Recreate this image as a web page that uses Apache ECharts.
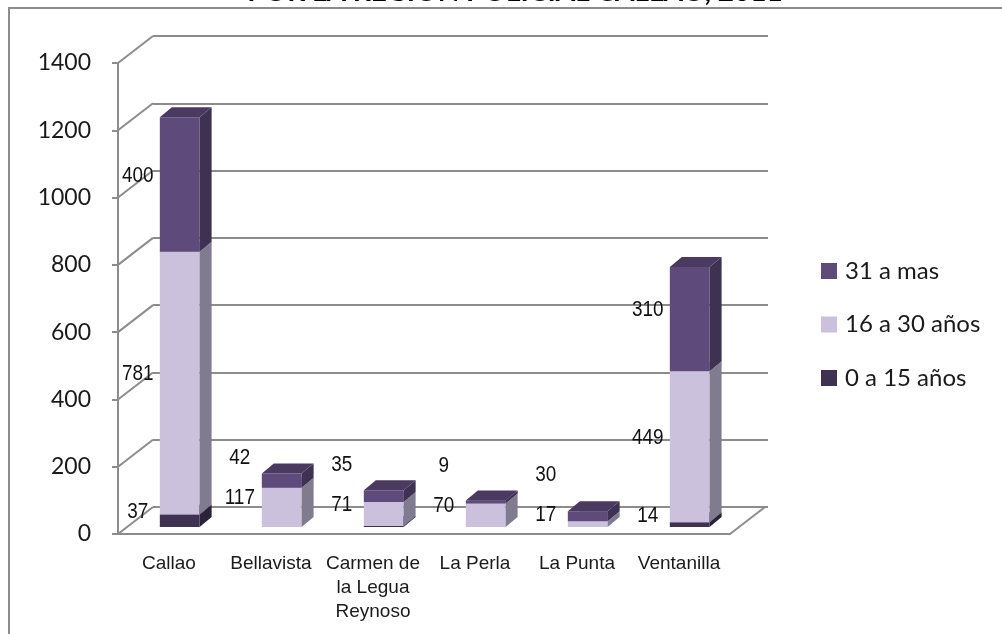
<!DOCTYPE html>
<html lang="es" style="height: 100%">
<head>
    <meta charset="utf-8">
    <title>Región Policial Callao</title>
    <script src="https://cdn.jsdelivr.net/npm/echarts@6/dist/echarts.min.js"></script>
</head>
<body style="height: 100%; margin: 0; background: #fff;">
<div id="container" style="width: 1002px; height: 634px"></div>
<script type="text/javascript">
    // datos
    var categories = ['Callao', 'Bellavista', 'Carmen de\nla Legua\nReynoso', 'La Perla', 'La Punta', 'Ventanilla'];
    var age0to15 = [37, 0, 3, 0, 0, 14];
    var age16to30 = [781, 117, 71, 70, 17, 449];
    var age31plus = [400, 42, 35, 9, 30, 310];
    var yTicks = [0, 200, 400, 600, 800, 1000, 1200, 1400];
    var seriesNames = ['0 a 15 años', '16 a 30 años', '31 a mas'];

    // profundidad de la pared y de las barras
    var WALL_DX = 35, WALL_DY = -27;
    var BAR_DX = 12, BAR_DY = -10;
    var GRID_COLOR = '#8c8c8c';
    var ARIAL = "'Liberation Sans', Arial, sans-serif";

    var dom = document.getElementById('container');
    var myChart = echarts.init(dom, null, {renderer: 'canvas'});

    // tramos apilados [categoria, inicio, fin]
    function stackData(values, bases) {
        return values.map(function (v, i) {
            return [i, bases[i], bases[i] + v];
        });
    }
    var zeros = age0to15.map(function () { return 0; });
    var base1 = age0to15.slice();
    var base2 = age0to15.map(function (v, i) { return v + age16to30[i]; });

    // cara frontal de la barra a partir de la escala
    function barFace(api, cat, lo, hi) {
        var band = api.size([1, 0])[0];
        var p0 = api.coord([cat, lo]);
        var p1 = api.coord([cat, hi]);
        var x0 = p0[0] - band * 0.09;
        return {x0: x0, x1: x0 + band * 0.39, y0: p0[1] - 7, y1: p1[1] - 7};
    }

    function boxRenderer(front, side, top) {
        return function (params, api) {
            var lo = api.value(1), hi = api.value(2);
            if (hi - lo <= 0) return;
            var f = barFace(api, api.value(0), lo, hi);
            var x0 = f.x0, x1 = f.x1, y0 = f.y0, y1 = f.y1;
            return {type: 'group', children: [
                {type: 'rect', shape: {x: x0, y: y1, width: x1 - x0, height: y0 - y1}, style: {fill: front}},
                {type: 'polygon', shape: {points: [[x1, y1], [x1 + BAR_DX, y1 + BAR_DY], [x1 + BAR_DX, y0 + BAR_DY], [x1, y0]]}, style: {fill: side}},
                {type: 'polygon', shape: {points: [[x0, y1], [x0 + BAR_DX, y1 + BAR_DY], [x1 + BAR_DX, y1 + BAR_DY], [x1, y1]]}, style: {fill: top}}
            ]};
        };
    }

    // etiquetas a la izquierda de cada tramo, separadas si no caben
    function labelRenderer(params, api) {
        var cat = api.value(0);
        var vals = [api.value(1), api.value(2), api.value(3)];
        var base = 0, prevY = Infinity, children = [];
        vals.forEach(function (v) {
            if (v >= 5) {
                var f = barFace(api, cat, base, base + v);
                var y = Math.min((f.y0 + f.y1) / 2 - 9, prevY - 40);
                prevY = y;
                children.push({
                    type: 'text',
                    x: f.x0 - 22, y: y,
                    scaleX: 0.86,
                    style: {
                        x: 0, y: 0,
                        text: String(v),
                        fill: '#111',
                        fontFamily: ARIAL,
                        fontSize: 22,
                        align: 'center', verticalAlign: 'middle'
                    }
                });
            }
            base += v;
        });
        return {type: 'group', children: children};
    }

    var option = {
        animation: false,
        title: {
            text: 'POR LA REGIÓN POLICIAL CALLAO, 2011',
            left: 510,
            textAlign: 'center',
            top: -27,
            textStyle: {fontFamily: 'Lato', fontSize: 28, fontWeight: 'bold', color: '#000'}
        },
        graphic: [{
            type: 'rect',
            shape: {x: 9, y: 8, width: 1100, height: 700},
            style: {fill: null, stroke: GRID_COLOR, lineWidth: 2},
            z: -10
        }],
        legend: {
            orient: 'vertical',
            left: 821,
            top: 259,
            padding: 0,
            itemWidth: 16,
            itemHeight: 16,
            itemGap: 29.5,
            icon: 'rect',
            data: ['31 a mas', '16 a 30 años', '0 a 15 años'],
            textStyle: {fontFamily: 'Lato', fontSize: 24, color: '#1a1a1a', padding: [0, 0, 0, 3]}
        },
        grid: [
            {left: 118, top: 63, width: 612, height: 471},
            {left: 153, top: 36, width: 615, height: 471}
        ],
        xAxis: [{
            type: 'category',
            gridIndex: 0,
            data: categories,
            axisLine: {lineStyle: {color: GRID_COLOR, width: 2}},
            axisTick: {length: 7, lineStyle: {color: GRID_COLOR, width: 2}},
            axisLabel: {fontFamily: ARIAL, fontSize: 19, lineHeight: 24, color: '#1a1a1a', margin: 18, interval: 0}
        }, {
            type: 'value', gridIndex: 1, show: false, min: 0, max: 1
        }],
        yAxis: [{
            type: 'value',
            gridIndex: 0,
            min: 0, max: 1400, interval: 200,
            axisLine: {show: true, lineStyle: {color: GRID_COLOR, width: 2}},
            axisTick: {show: true, length: 6, lineStyle: {color: GRID_COLOR, width: 2}},
            axisLabel: {fontFamily: 'Lato', fontSize: 23, color: '#1a1a1a', margin: 27,
                formatter: function (v) { return String(v); }},
            splitLine: {show: false}
        }, {
            type: 'value',
            gridIndex: 1,
            min: 0, max: 1400, interval: 200,
            axisLine: {show: false},
            axisTick: {show: false},
            axisLabel: {show: false},
            splitLine: {show: true, lineStyle: {color: GRID_COLOR, width: 2}}
        }],
        series: [
            {
                // diagonales de la pared lateral
                type: 'custom',
                silent: true,
                xAxisIndex: 0, yAxisIndex: 0,
                data: yTicks.map(function (t) { return [0, t]; }),
                renderItem: function (params, api) {
                    var band = api.size([1, 0])[0];
                    var p = api.coord([0, api.value(1)]);
                    var x = p[0] - band / 2;
                    return {type: 'line', shape: {x1: x, y1: p[1], x2: x + WALL_DX, y2: p[1] + WALL_DY},
                        style: {stroke: GRID_COLOR, lineWidth: 2}};
                }
            },
            {
                // borde derecho del piso
                type: 'custom',
                silent: true,
                xAxisIndex: 0, yAxisIndex: 0,
                data: [[categories.length - 1, 0]],
                renderItem: function (params, api) {
                    var band = api.size([1, 0])[0];
                    var p = api.coord([api.value(0), api.value(1)]);
                    var x = p[0] + band / 2;
                    return {type: 'line', shape: {x1: x, y1: p[1], x2: x + WALL_DX, y2: p[1] + WALL_DY},
                        style: {stroke: GRID_COLOR, lineWidth: 2}};
                }
            },
            {
                name: seriesNames[0],
                type: 'custom',
                xAxisIndex: 0, yAxisIndex: 0,
                itemStyle: {color: '#3f3151'},
                encode: {x: 0, y: [1, 2]},
                data: stackData(age0to15, zeros),
                renderItem: boxRenderer('#3f3151', '#2b2139', '#352944')
            },
            {
                name: seriesNames[1],
                type: 'custom',
                xAxisIndex: 0, yAxisIndex: 0,
                itemStyle: {color: '#ccc1dc'},
                encode: {x: 0, y: [1, 2]},
                data: stackData(age16to30, base1),
                renderItem: boxRenderer('#ccc1dc', '#817b90', '#b3a6c6')
            },
            {
                name: seriesNames[2],
                type: 'custom',
                xAxisIndex: 0, yAxisIndex: 0,
                itemStyle: {color: '#5f4b7b'},
                encode: {x: 0, y: [1, 2]},
                data: stackData(age31plus, base2),
                renderItem: boxRenderer('#5f4b7b', '#3f3152', '#4a3a62')
            },
            {
                // etiquetas de datos
                type: 'custom',
                silent: true,
                xAxisIndex: 0, yAxisIndex: 0,
                data: categories.map(function (c, i) {
                    return [i, age0to15[i], age16to30[i], age31plus[i]];
                }),
                renderItem: labelRenderer,
                z: 5
            }
        ]
    };
    myChart.setOption(option);
</script>
</body>
</html>
